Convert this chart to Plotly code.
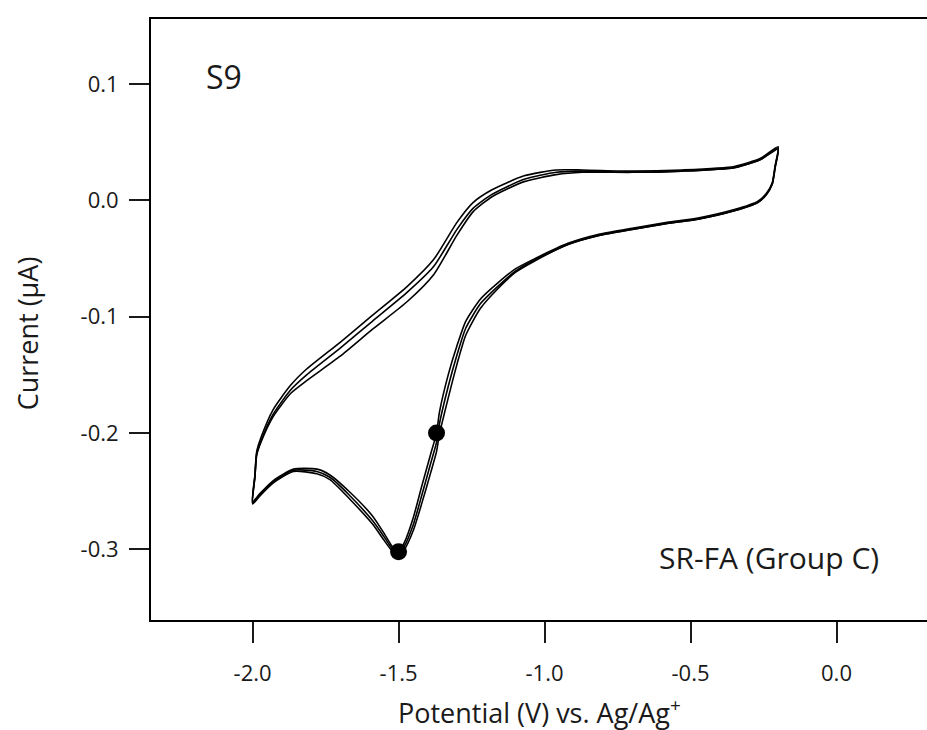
import plotly.graph_objects as go

# Cathodic sweep (-0.2 V -> -2.0 V)
V_cath = [-0.20, -0.21, -0.22, -0.24, -0.27, -0.35, -0.47, -0.58, -0.70, -0.81, -0.92,
          -1.04, -1.10, -1.16, -1.22, -1.27, -1.30, -1.33, -1.36, -1.37, -1.39, -1.42,
          -1.45, -1.48, -1.50, -1.52, -1.55, -1.59, -1.67, -1.735, -1.78, -1.86, -1.93,
          -1.975, -2.00]
I_cath_1 = [0.046, 0.030, 0.015, 0.006, -0.001, -0.008, -0.015, -0.019, -0.024, -0.029, -0.037,
            -0.051, -0.059, -0.071, -0.085, -0.104, -0.125, -0.150, -0.182, -0.200, -0.218, -0.245,
            -0.273, -0.294, -0.302, -0.298, -0.286, -0.271, -0.250, -0.236, -0.231, -0.231, -0.241,
            -0.252, -0.259]
I_cath_2 = [0.045, 0.029, 0.014, 0.005, -0.002, -0.009, -0.016, -0.020, -0.025, -0.030, -0.038,
            -0.052, -0.061, -0.074, -0.089, -0.110, -0.133, -0.160, -0.192, -0.208, -0.226, -0.253,
            -0.279, -0.297, -0.303, -0.300, -0.289, -0.275, -0.253, -0.238, -0.233, -0.232, -0.242,
            -0.253, -0.260]
I_cath_3 = [0.044, 0.028, 0.014, 0.005, -0.002, -0.009, -0.016, -0.020, -0.025, -0.030, -0.038,
            -0.053, -0.062, -0.076, -0.093, -0.116, -0.141, -0.170, -0.201, -0.216, -0.234, -0.260,
            -0.284, -0.300, -0.305, -0.302, -0.292, -0.278, -0.256, -0.240, -0.235, -0.233, -0.243,
            -0.254, -0.261]

# Anodic sweep (-2.0 V -> -0.2 V)
V_an = [-2.00, -1.992, -1.986, -1.97, -1.93, -1.87, -1.815, -1.70, -1.59, -1.47, -1.38,
        -1.30, -1.245, -1.18, -1.07, -0.96, -0.87, -0.70, -0.53, -0.35, -0.26, -0.20]
I_an_1 = [-0.259, -0.236, -0.216, -0.203, -0.180, -0.159, -0.145, -0.122, -0.099, -0.074, -0.051,
          -0.019, -0.002, 0.009, 0.021, 0.026, 0.026, 0.025, 0.026, 0.029, 0.036, 0.046]
I_an_2 = [-0.260, -0.237, -0.218, -0.206, -0.184, -0.163, -0.150, -0.127, -0.104, -0.079, -0.057,
          -0.025, -0.007, 0.005, 0.018, 0.024, 0.025, 0.024, 0.025, 0.028, 0.035, 0.045]
I_an_3 = [-0.261, -0.238, -0.219, -0.207, -0.186, -0.166, -0.155, -0.134, -0.111, -0.087, -0.064,
          -0.030, -0.010, 0.003, 0.016, 0.022, 0.024, 0.024, 0.025, 0.028, 0.035, 0.044]

# Highlighted points
marker_V = [-1.50, -1.37]
marker_I = [-0.302, -0.200]

x_ticks = [-2.0, -1.5, -1.0, -0.5, 0.0]
x_ticklabels = ["-2.0", "-1.5", "-1.0", "-0.5", "0.0"]
y_ticks = [0.1, 0.0, -0.1, -0.2, -0.3]
y_ticklabels = ["0.1", "0.0", "-0.1", "-0.2", "-0.3"]

FONT = "Open Sans"
INK = "#1a1a1a"

fig = go.Figure()
for ic, ia in [(I_cath_1, I_an_1), (I_cath_2, I_an_2), (I_cath_3, I_an_3)]:
    fig.add_trace(go.Scatter(
        x=V_cath + V_an[1:], y=ic + ia[1:], mode="lines",
        line=dict(color="black", width=1.6, shape="spline", smoothing=0.6),
        showlegend=False, hoverinfo="skip"))

fig.add_trace(go.Scatter(
    x=marker_V, y=marker_I, mode="markers",
    marker=dict(color="black", size=17), showlegend=False))

fig.update_layout(
    width=927, height=730,
    margin=dict(l=151, r=0, t=19, b=110),
    paper_bgcolor="white", plot_bgcolor="white",
    font=dict(family=FONT, size=22, color=INK),
    xaxis=dict(range=[-2.348, 0.310], tickvals=x_ticks, ticktext=x_ticklabels,
               showgrid=False, zeroline=False, showline=True, linecolor="black",
               linewidth=2, mirror=True, ticks="outside", ticklen=21, tickwidth=2,
               tickcolor=INK, tickfont=dict(size=22, family=FONT, color=INK),
               ticklabelstandoff=12),
    yaxis=dict(range=[-0.3606, 0.1557], tickvals=y_ticks, ticktext=y_ticklabels,
               showgrid=False, zeroline=False, showline=True, linecolor="black",
               linewidth=2, ticks="outside", ticklen=20, tickwidth=2,
               tickcolor=INK, tickfont=dict(size=22, family=FONT, color=INK),
               ticklabelstandoff=6),
    annotations=[
        dict(x=-2.098, y=0.106, xref="x", yref="y", text="S9", showarrow=False,
             font=dict(size=32, family=FONT, color=INK)),
        dict(x=-0.232, y=-0.307, xref="x", yref="y", text="SR-FA (Group C)",
             showarrow=False, font=dict(size=30, family=FONT, color=INK)),
        dict(x=0.5, y=-0.152, xref="paper", yref="paper", xanchor="center",
             yanchor="middle", text="Potential (V) vs. Ag/Ag<sup>+</sup>",
             showarrow=False, font=dict(size=27, family=FONT, color=INK)),
        dict(x=-0.158, y=-0.114, xref="paper", yref="y", xanchor="center",
             yanchor="middle", text="Current (μA)", textangle=-90, showarrow=False,
             font=dict(size=27, family=FONT, color=INK)),
    ],
)

fig.write_html("out.html", config={"displayModeBar": False},
               post_script="document.body.style.margin='0';document.body.style.overflow='hidden';")
